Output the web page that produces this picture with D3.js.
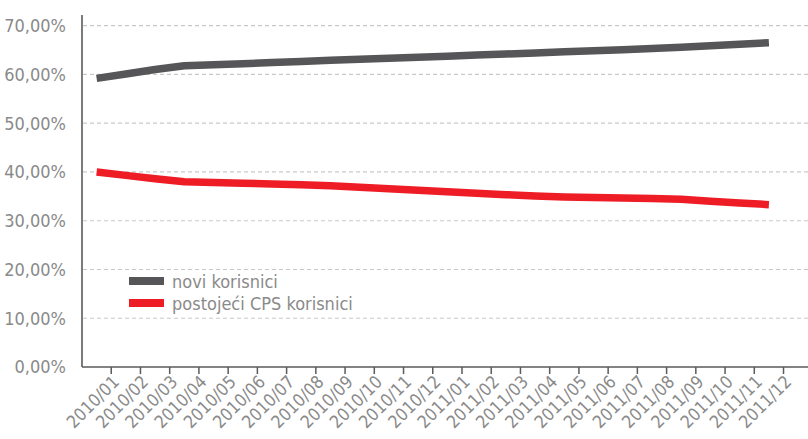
<!DOCTYPE html>
<html><head><meta charset="utf-8">
<script src="https://cdn.jsdelivr.net/npm/d3@7"></script>
<style>
html,body{margin:0;padding:0;background:#fff;}
svg{display:block;font-family:"Liberation Sans Narrow","DejaVu Sans Condensed","Liberation Sans",sans-serif;}
</style></head>
<body><svg id="c" width="808" height="439"></svg>
<script>
const categories = ["2010/01","2010/02","2010/03","2010/04","2010/05","2010/06","2010/07","2010/08","2010/09","2010/10","2010/11","2010/12",
"2011/01","2011/02","2011/03","2011/04","2011/05","2011/06","2011/07","2011/08","2011/09","2011/10","2011/11","2011/12"];
const noviKorisnici = [59.2,60.1,61.0,61.8,62.0,62.2,62.45,62.65,62.9,63.1,63.3,63.55,63.75,64.0,64.2,64.4,64.65,64.85,65.05,65.3,65.6,65.9,66.2,66.5];
const postojeciKorisnici = [40.0,39.3,38.6,38.0,37.85,37.7,37.55,37.4,37.15,36.85,36.55,36.25,35.95,35.65,35.35,35.05,34.85,34.75,34.65,34.55,34.4,34.0,33.65,33.3];
const yTicks = [0,10,20,30,40,50,60,70];
const seriesNames = ["novi korisnici","postojeći CPS korisnici"];
const seriesColors = ["#565658","#ee1c25"];

const svg = d3.select("#c");
const mLeft = 82, bandW = 29.23, mTop = 15, mBottom = 367;
const x = d3.scaleBand().domain(categories).range([mLeft, mLeft + bandW*categories.length]).padding(0);
const y = d3.scaleLinear().domain([0,70]).range([mBottom, 25.7]);

// gridlines
svg.append("g").selectAll("line").data(yTicks.filter(d=>d>0)).join("line")
  .attr("x1", mLeft+1).attr("x2", 808).attr("y1", d=>y(d)).attr("y2", d=>y(d))
  .attr("stroke","#c9c9c9").attr("stroke-width",1.2).attr("stroke-dasharray","4,3");

// y labels
svg.append("g").selectAll("text").data(yTicks).join("text")
  .attr("x", 66).attr("y", d=>y(d)).attr("dy","0.36em")
  .attr("text-anchor","end").attr("fill","#8a8a8a").attr("font-size",18)
  .text(d=>d3.format(".2f")(d).replace(".",",")+"%");

// axes lines
svg.append("line").attr("x1",mLeft).attr("x2",mLeft).attr("y1",mTop).attr("y2",mBottom)
  .attr("stroke","#5a5a5a").attr("stroke-width",1.6);
svg.append("line").attr("x1",mLeft).attr("x2",808).attr("y1",mBottom).attr("y2",mBottom)
  .attr("stroke","#5a5a5a").attr("stroke-width",1.6);

// x ticks at band ends
const xt = svg.append("g").selectAll("g").data(categories).join("g")
  .attr("transform", d=>`translate(${x(d)+x.bandwidth()},${mBottom})`);
xt.append("line").attr("y1",0).attr("y2",7).attr("stroke","#5a5a5a").attr("stroke-width",1.5);
xt.append("text").attr("transform","translate(9,16) rotate(-45)")
  .attr("text-anchor","end").attr("fill","#8a8a8a").attr("font-size",17.5)
  .text(d=>d);

// lines
const line = d3.line().x((d,i)=>x(categories[i])+x.bandwidth()/2).y(d=>y(d));
[noviKorisnici, postojeciKorisnici].forEach((s,k)=>{
  svg.append("path").datum(s).attr("d",line).attr("fill","none")
    .attr("stroke",seriesColors[k]).attr("stroke-width",7.5)
    .attr("stroke-linecap","butt").attr("stroke-linejoin","round");
});

// legend
const lg = svg.append("g").selectAll("g").data(seriesNames).join("g")
  .attr("transform",(d,i)=>`translate(129,${277 + i*22})`);
lg.append("rect").attr("width",35).attr("height",8).attr("fill",(d,i)=>seriesColors[i]);
lg.append("text").attr("x",43).attr("y",11).attr("fill","#8a8a8a").attr("font-size",18).text(d=>d);
</script></body></html>
